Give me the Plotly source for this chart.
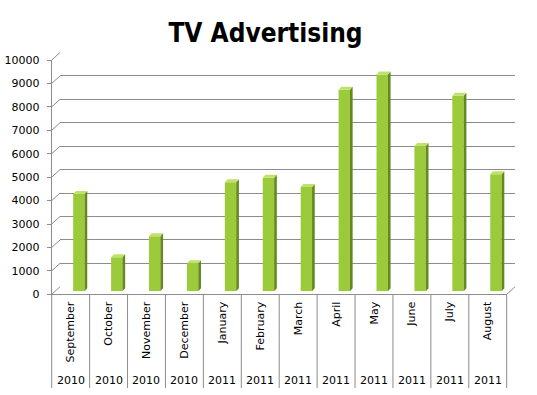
import plotly.graph_objects as go

# ---------------- data ----------------
months = ["September", "October", "November", "December", "January", "February",
          "March", "April", "May", "June", "July", "August"]
years = ["2010", "2010", "2010", "2010", "2011", "2011",
         "2011", "2011", "2011", "2011", "2011", "2011"]
values = [4150, 1450, 2350, 1200, 4650, 4850, 4450, 8600, 9250, 6200, 8350, 5000]
y_ticks = list(range(0, 10001, 1000))
title_text = "TV Advertising"

# ---------------- geometry (pixels) ----------------
W, H = 537, 395
def px(x):
    return x / W
def py(y):
    return 1 - y / H

FRONT_L, FRONT_R = 51.7, 506.7      # front floor edge
FRONT_Y0, FRONT_Y10 = 294.3, 60.0    # front value scale (0 .. 10000)
DEPTH_DX, DEPTH_DY = 8.3, 7.5        # back wall offset
BAR_SX, BAR_SY = 8.2, 3.0            # bar plane offset
YMAX = 10000
n = len(months)
cell_px = (FRONT_R - FRONT_L) / n
unit_px = (FRONT_Y0 - FRONT_Y10) / YMAX
BAR_W = 0.30
SIDE_DX = 2.7 / cell_px
SIDE_DY = 3.0 / unit_px

GRID = "#8c8c8c"
FRONT_C = "#9bcb3b"
SIDE_C = "#66891f"
TOP_C = "#bfe36a"
FONT = "DejaVu Sans, Verdana, sans-serif"

fig = go.Figure()

# back wall (gridlines) -> xy
fig.add_trace(go.Scatter(x=[], y=[], xaxis="x", yaxis="y", showlegend=False, hoverinfo="skip"))
# front plane (labels) -> x2y2
fig.add_trace(go.Scatter(x=[], y=[], xaxis="x2", yaxis="y2", showlegend=False, hoverinfo="skip"))

# bars -> x3y3
idx = list(range(n))
fig.add_trace(go.Bar(x=idx, y=values, width=BAR_W, marker=dict(color=FRONT_C, line=dict(width=0)),
                     xaxis="x3", yaxis="y3", showlegend=False, hoverinfo="skip"))

sx, sy, tx, ty = [], [], [], []
for i, v in enumerate(values):
    l = i - BAR_W / 2
    r = i + BAR_W / 2
    sx += [r, r + SIDE_DX, r + SIDE_DX, r, r, None]
    sy += [0, SIDE_DY, v + SIDE_DY, v, 0, None]
    tx += [l, l + SIDE_DX, r + SIDE_DX, r, l, None]
    ty += [v, v + SIDE_DY, v + SIDE_DY, v, v, None]
fig.add_trace(go.Scatter(x=sx, y=sy, mode="lines", fill="toself", fillcolor=SIDE_C,
                         line=dict(width=0, color=SIDE_C), xaxis="x3", yaxis="y3",
                         showlegend=False, hoverinfo="skip"))
fig.add_trace(go.Scatter(x=tx, y=ty, mode="lines", fill="toself", fillcolor=TOP_C,
                         line=dict(width=0, color=TOP_C), xaxis="x3", yaxis="y3",
                         showlegend=False, hoverinfo="skip"))

# ---------------- shapes ----------------
shapes = []
def yval_px(v, base):
    return base - v * unit_px

# diagonals from front labels to back wall
for v in y_ticks:
    y_front = yval_px(v, FRONT_Y0)
    shapes.append(dict(type="line", xref="paper", yref="paper",
                       x0=px(FRONT_L), y0=py(y_front),
                       x1=px(FRONT_L + DEPTH_DX), y1=py(y_front - DEPTH_DY),
                       line=dict(color=GRID, width=1)))
# right floor diagonal
shapes.append(dict(type="line", xref="paper", yref="paper",
                   x0=px(FRONT_R), y0=py(FRONT_Y0),
                   x1=px(FRONT_R + DEPTH_DX), y1=py(FRONT_Y0 - DEPTH_DY),
                   line=dict(color=GRID, width=1)))
# category separators below the floor
for k in range(n + 1):
    xk = FRONT_L + k * cell_px
    shapes.append(dict(type="line", xref="paper", yref="paper",
                       x0=px(xk), y0=py(FRONT_Y0), x1=px(xk), y1=py(388),
                       line=dict(color=GRID, width=1)))

annotations = []
for i, yr in enumerate(years):
    annotations.append(dict(x=i, xref="x2", y=py(380), yref="paper", text=yr,
                            showarrow=False, xanchor="center", yanchor="middle",
                            font=dict(family=FONT, size=11, color="#000000")))

hidden = dict(visible=False, showgrid=False, zeroline=False, fixedrange=True, automargin=False)

fig.update_layout(
    template="none",
    width=W, height=H,
    margin=dict(l=0, r=0, t=0, b=0, pad=0, autoexpand=False),
    paper_bgcolor="white", plot_bgcolor="rgba(0,0,0,0)",
    barmode="overlay",
    title=dict(text=title_text, x=px(265.5), xanchor="center", xref="paper",
               y=py(33), yanchor="middle", yref="paper",
               font=dict(family="DejaVu Sans Condensed, DejaVu Sans, sans-serif", size=26,
                         color="#000000", weight="bold")),
    # back wall
    xaxis=dict(domain=[px(FRONT_L + DEPTH_DX), px(FRONT_R + DEPTH_DX)], range=[0, 1],
               anchor="y", showticklabels=False, showgrid=False, zeroline=False,
               showline=False, ticks="", automargin=False),
    yaxis=dict(domain=[py(FRONT_Y0 - DEPTH_DY), py(FRONT_Y10 - DEPTH_DY)], range=[0, YMAX],
               anchor="x", showticklabels=False, showgrid=True, gridcolor=GRID, gridwidth=1,
               dtick=1000, tick0=0, zeroline=False, showline=False, ticks="", automargin=False),
    # front plane
    xaxis2=dict(domain=[px(FRONT_L), px(FRONT_R)], range=[-0.5, n - 0.5], anchor="y2",
                tickmode="array", tickvals=idx, ticktext=months, tickangle=-90,
                tickfont=dict(family=FONT, size=11, color="#000000"),
                showgrid=False, zeroline=False, showline=True, linecolor=GRID, linewidth=1,
                ticks="", ticklabelstandoff=2, automargin=False),
    yaxis2=dict(domain=[py(FRONT_Y0), py(FRONT_Y10)], range=[0, YMAX], anchor="x2",
                tickmode="array", tickvals=y_ticks, ticktext=[str(t) for t in y_ticks],
                tickfont=dict(family=FONT, size=11, color="#000000"),
                showgrid=False, zeroline=False, showline=True, linecolor=GRID, linewidth=1,
                ticks="outside", ticklen=4, tickcolor=GRID, ticklabelstandoff=5,
                automargin=False),
    # bars plane
    xaxis3=dict(domain=[px(FRONT_L + BAR_SX), px(FRONT_R + BAR_SX)], range=[-0.5, n - 0.5],
                anchor="y3", **hidden),
    yaxis3=dict(domain=[py(FRONT_Y0 - BAR_SY), py(FRONT_Y10 - BAR_SY)], range=[0, YMAX],
                anchor="x3", **hidden),
    shapes=shapes,
    annotations=annotations,
)

fig.write_html("out.html", config={"displayModeBar": False},
               post_script="document.body.style.margin='0';document.body.style.overflow='hidden';")
